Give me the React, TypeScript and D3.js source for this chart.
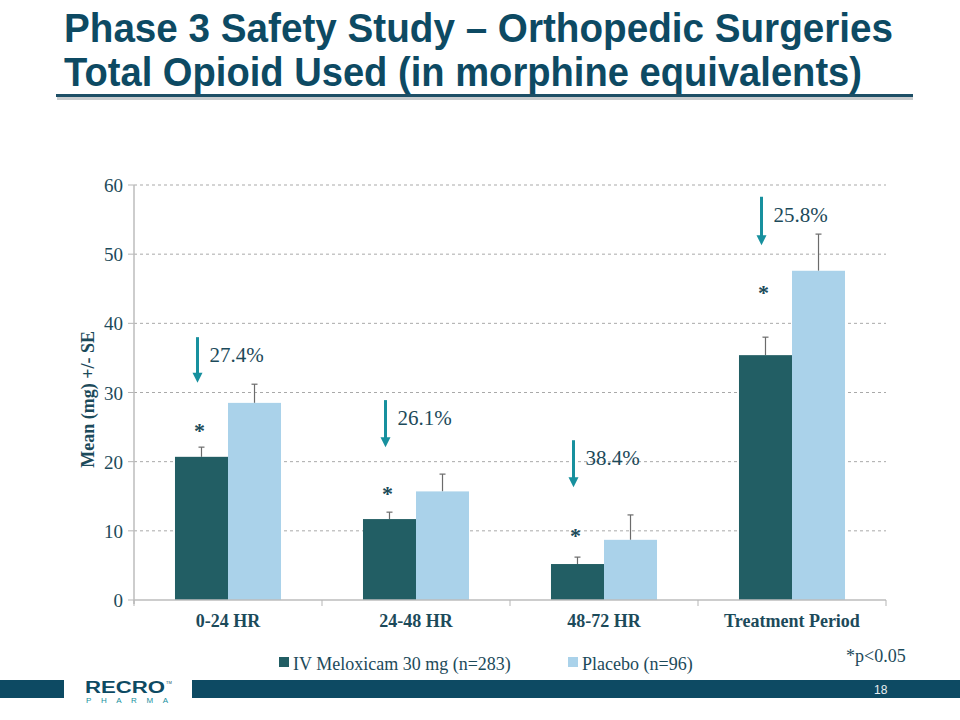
import React from "react";
import * as d3 from "d3";

// chart data
const categories = ["0-24 HR", "24-48 HR", "48-72 HR", "Treatment Period"];
const seriesNames = ["IV Meloxicam 30 mg (n=283)", "Placebo (n=96)"];
const meloxicam = [20.7, 11.7, 5.2, 35.4];
const meloxicamErr = [1.4, 1.0, 1.0, 2.6];
const placebo = [28.5, 15.7, 8.7, 47.6];
const placeboErr = [2.7, 2.5, 3.6, 5.3];
const reductions = ["27.4%", "26.1%", "38.4%", "25.8%"];
const yTicks = [0, 10, 20, 30, 40, 50, 60];

// annotation placement (data units)
const arrowTop = [38.0, 28.9, 23.1, 58.3];
const arrowTip = [31.4, 22.1, 16.3, 51.3];
const starY = [25.0, 15.9, 9.8, 45.0];

const W = 960;
const H = 720;
const serif = "'Liberation Serif', 'Times New Roman', serif";
const sans = "'Liberation Sans', Arial, sans-serif";
const navy = "#0d4a63";
const textDark = "#1c4a5a";
const darkBar = "#225e64";
const lightBar = "#aad2ea";
const teal = "#17909e";

const App: React.FC = () => {
  const x0 = d3.scaleBand<string>().domain(categories).range([134, 886]);
  const bw = x0.bandwidth();
  const x1 = d3.scaleBand<string>().domain(seriesNames).range([bw * 0.218, bw * 0.782]);
  const y = d3.scaleLinear().domain([0, 60]).range([600, 185]);
  const values = [meloxicam, placebo];
  const errs = [meloxicamErr, placeboErr];
  const colors = [darkBar, lightBar];

  return (
    <svg width={W} height={H} style={{ position: "absolute", left: 0, top: 0 }}>
      <rect width={W} height={H} fill="#fff" />

      {/* title */}
      <text x={64} y={42} fontFamily={sans} fontWeight="bold" fontSize={40} fill={navy}
        textLength={829} lengthAdjust="spacingAndGlyphs">
        Phase 3 Safety Study – Orthopedic Surgeries
      </text>
      <text x={64} y={86} fontFamily={sans} fontWeight="bold" fontSize={40} fill={navy}
        textLength={798} lengthAdjust="spacingAndGlyphs">
        Total Opioid Used (in morphine equivalents)
      </text>
      <rect x={57} y={97} width={856} height={3} fill="#c9ccce" />
      <rect x={56} y={94} width={857} height={3} fill="#1d4f66" />

      {/* grid */}
      {yTicks.slice(1).map((t) => (
        <line key={t} x1={134} x2={886} y1={y(t)} y2={y(t)} stroke="#a9a9a9"
          strokeDasharray="3,3" strokeWidth={1} />
      ))}
      {yTicks.map((t) => (
        <g key={"yt" + t}>
          <line x1={128} x2={134} y1={y(t)} y2={y(t)} stroke="#b5b5b5" />
          <text x={123} y={y(t) + 7} textAnchor="end" fontFamily={serif} fontSize={19} fill={textDark}>
            {t}
          </text>
        </g>
      ))}
      <line x1={134} x2={134} y1={y(60)} y2={y(0) + 4} stroke="#bdbdbd" strokeWidth={1.5} />
      <text transform={`translate(94, ${y(29)}) rotate(-90)`} textAnchor="middle" fontFamily={serif}
        fontWeight="bold" fontSize={18} fill={textDark}>
        Mean (mg) +/- SE
      </text>

      {/* bars */}
      {categories.map((c, i) => (
        <g key={c} transform={`translate(${x0(c)},0)`}>
          {seriesNames.map((s, k) => {
            const v = values[k][i];
            const e = errs[k][i];
            const bx = x1(s)!;
            const cx = bx + x1.bandwidth() / 2;
            return (
              <g key={s}>
                <line x1={cx} x2={cx} y1={y(v)} y2={y(v + e)} stroke="#6b6b6b" strokeWidth={1.2} />
                <line x1={cx - 3} x2={cx + 3} y1={y(v + e)} y2={y(v + e)} stroke="#6b6b6b" strokeWidth={1.2} />
                <rect x={bx} y={y(v)} width={x1.bandwidth()} height={y(0) - y(v)} fill={colors[k]} />
              </g>
            );
          })}
        </g>
      ))}

      {/* x axis */}
      <line x1={134} x2={886} y1={y(0)} y2={y(0)} stroke="#bdbdbd" strokeWidth={1.5} />
      {[...categories.map((c) => x0(c)!), 886].map((tx, i) => (
        <line key={"xt" + i} x1={tx} x2={tx} y1={y(0)} y2={y(0) + 6} stroke="#b5b5b5" />
      ))}
      {categories.map((c) => (
        <text key={"xl" + c} x={x0(c)! + bw / 2} y={627} textAnchor="middle" fontFamily={serif}
          fontWeight="bold" fontSize={18} fill={textDark}>
          {c}
        </text>
      ))}

      {/* annotations */}
      {categories.map((c, i) => {
        const dc = x0(c)! + x1(seriesNames[0])! + x1.bandwidth() / 2;
        const ax = dc - 4;
        const top = y(arrowTop[i]);
        const tip = y(arrowTip[i]);
        return (
          <g key={"an" + c}>
            <line x1={ax} x2={ax} y1={top} y2={tip - 9} stroke={teal} strokeWidth={3} />
            <path d={`M${ax - 5},${tip - 10} L${ax + 5},${tip - 10} L${ax},${tip} Z`} fill={teal} />
            <text x={ax + 12} y={top + 25} fontFamily={serif} fontSize={21} fill={textDark}>
              {reductions[i]}
            </text>
            <text x={dc - 2} y={y(starY[i]) + 11} textAnchor="middle" fontFamily={serif}
              fontWeight="bold" fontSize={22} fill={textDark}>
              *
            </text>
          </g>
        );
      })}

      {/* legend */}
      <rect x={279} y={657} width={10} height={10} fill={darkBar} />
      <text x={293} y={670} fontFamily={serif} fontSize={18} fill={textDark}>{seriesNames[0]}</text>
      <rect x={568} y={657} width={10} height={10} fill={lightBar} />
      <text x={582} y={670} fontFamily={serif} fontSize={18} fill={textDark}>{seriesNames[1]}</text>
      <text x={846} y={662} fontFamily={serif} fontSize={18} fill={textDark}>*p&lt;0.05</text>

      {/* footer */}
      <rect x={0} y={680} width={64} height={18} fill={navy} />
      <rect x={192} y={680} width={W - 192} height={18} fill={navy} />
      <text x={85} y={693} fontFamily={sans} fontWeight="bold" fontSize={16} fill={navy}
        textLength={80} lengthAdjust="spacingAndGlyphs">RECRO</text>
      <text x={166} y={684} fontFamily={sans} fontSize={4} fill={navy}>TM</text>
      <text x={86} y={703} fontFamily={sans} fontSize={8} fill={teal}
        textLength={82} lengthAdjust="spacing">PHARMA</text>
      <text x={874} y={694} fontFamily={sans} fontSize={12} fill="#e6eef2">18</text>
    </svg>
  );
};

export default App;
